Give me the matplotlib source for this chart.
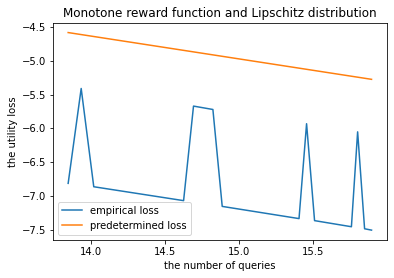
import matplotlib
matplotlib.use('Agg')
import matplotlib.pyplot as plt

# values
queries = [13.843, 13.931, 14.016, 14.623, 14.690, 14.821, 14.884,
           15.403, 15.454, 15.508, 15.757, 15.799, 15.846, 15.893]
empirical_loss = [-6.81, -5.41, -6.86, -7.065, -5.67, -5.72, -7.15,
                  -7.33, -5.93, -7.36, -7.45, -6.05, -7.48, -7.50]
predetermined_x = [13.843, 15.893]
predetermined_loss = [-4.585, -5.275]

fig = plt.figure(figsize=(394 / 72, 278 / 72), dpi=72)
ax = fig.add_axes([0.1345, 0.1367, 0.847, 0.7817])
ax.plot(queries, empirical_loss, label='empirical loss')
ax.plot(predetermined_x, predetermined_loss, label='predetermined loss')
ax.set_title('Monotone reward function and Lipschitz distribution')
ax.set_xlabel('the number of queries')
ax.set_ylabel('the utility loss')
ax.legend(loc='lower left')
fig.savefig('out.png', dpi=72)
